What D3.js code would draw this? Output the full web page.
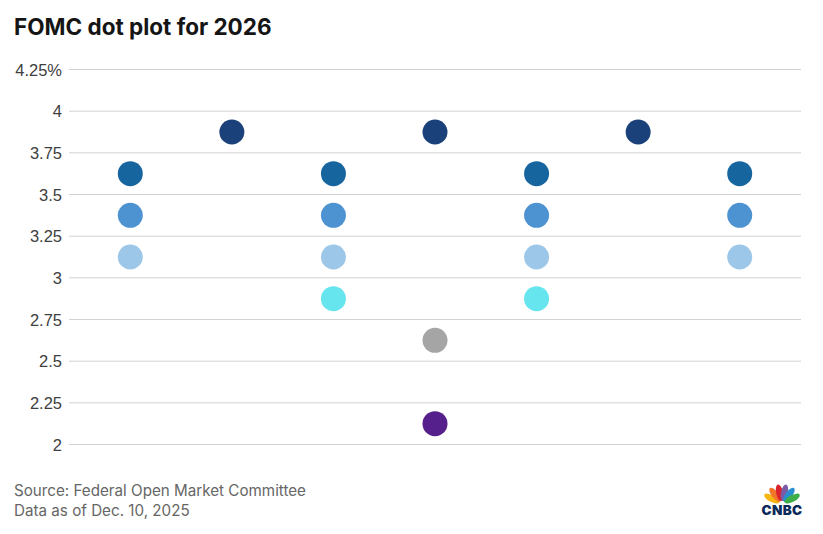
<!DOCTYPE html>
<html>
<head>
<meta charset="utf-8">
<script src="https://cdn.jsdelivr.net/npm/d3@7"></script>
<style>
  html, body { margin: 0; padding: 0; background: #fff; }
  svg { display: block; font-family: Inter, Lato, sans-serif; }
  .grid line { stroke: #d2d2d2; stroke-width: 1; }
  .grid path { display: none; }
  .grid text { font-size: 16.5px; fill: #404040; }
</style>
</head>
<body>
<div id="chart"></div>
<script>
var svgWidth = 823;
var svgHeight = 534;

// one entry per dot, in column order
var columns = ["a", "b", "c", "d", "e", "f", "g"];
var dotColumns = ["a", "a", "a", "b", "c", "c", "c", "c", "d", "d", "d", "e", "e", "e", "e", "f", "g", "g", "g"];
var dotRates = [3.625, 3.375, 3.125, 3.875, 3.625, 3.375, 3.125, 2.875, 3.875, 2.625, 2.125, 3.625, 3.375, 3.125, 2.875, 3.875, 3.625, 3.375, 3.125];

var tickValues = [2, 2.25, 2.5, 2.75, 3, 3.25, 3.5, 3.75, 4, 4.25];
var tickLabels = ["2", "2.25", "2.5", "2.75", "3", "3.25", "3.5", "3.75", "4", "4.25%"];

var colorRates = [3.875, 3.625, 3.375, 3.125, 2.875, 2.625, 2.125];
var colorValues = ["#1a4179", "#17659f", "#4d92d1", "#9cc7e8", "#66e5ee", "#a5a5a5", "#551f8c"];

var sourceLines = ["Source: Federal Open Market Committee", "Data as of Dec. 10, 2025"];

var svg = d3.select("#chart")
    .append("svg")
    .attr("width", svgWidth)
    .attr("height", svgHeight);

svg.append("text")
    .attr("x", 14)
    .attr("y", 35)
    .attr("font-size", 22.5)
    .attr("font-weight", 700)
    .attr("fill", "#151515")
    .text("FOMC dot plot for 2026");

var xScale = d3.scaleBand()
    .domain(columns)
    .range([79.5, 790.5]);

var yScale = d3.scaleLinear()
    .domain([2, 4.25])
    .range([444.5, 69.5]);

var colorScale = d3.scaleOrdinal()
    .domain(colorRates)
    .range(colorValues);

var leftAxis = d3.axisLeft(yScale)
    .tickValues(tickValues)
    .tickFormat(function(d, i) { return tickLabels[i]; })
    .tickSize(-732)
    .tickPadding(7)
    .offset(0);

var axisGroup = svg.append("g")
    .attr("class", "grid")
    .attr("transform", "translate(69, 0)")
    .call(leftAxis);

axisGroup.selectAll("text").attr("dy", "0.38em");

svg.selectAll("circle.dot")
    .data(dotRates)
    .enter()
    .append("circle")
    .attr("class", "dot")
    .attr("cx", function(d, i) { return xScale(dotColumns[i]) + xScale.bandwidth() / 2; })
    .attr("cy", function(d) { return yScale(d); })
    .attr("r", 12.5)
    .attr("fill", function(d) { return colorScale(d); });

svg.selectAll("text.source")
    .data(sourceLines)
    .enter()
    .append("text")
    .attr("class", "source")
    .attr("x", 14)
    .attr("y", function(d, i) { return 496 + i * 20; })
    .attr("font-size", 15.2)
    .attr("fill", "#666666")
    .text(function(d) { return d; });

// CNBC logo, feathers fanned out around the base of the peacock
var featherAngles = [-62, -37, -12, 12, 37, 62];
var featherColors = ["#f7b512", "#f0772a", "#d9232e", "#7b5aa6", "#2a8fd0", "#3fae49"];

var logo = svg.append("g")
    .attr("transform", "translate(782, 504)");

logo.selectAll("ellipse")
    .data(featherAngles)
    .enter()
    .append("ellipse")
    .attr("cx", 0)
    .attr("cy", -11.5)
    .attr("rx", 3.4)
    .attr("ry", 8.5)
    .attr("transform", function(d) { return "rotate(" + d + ")"; })
    .attr("fill", function(d, i) { return featherColors[i]; });

logo.append("text")
    .attr("x", 0)
    .attr("y", 10.5)
    .attr("text-anchor", "middle")
    .attr("font-size", 13.5)
    .attr("font-weight", 900)
    .attr("letter-spacing", 0.3)
    .attr("fill", "#0b2a5b")
    .text("CNBC");
</script>
</body>
</html>
